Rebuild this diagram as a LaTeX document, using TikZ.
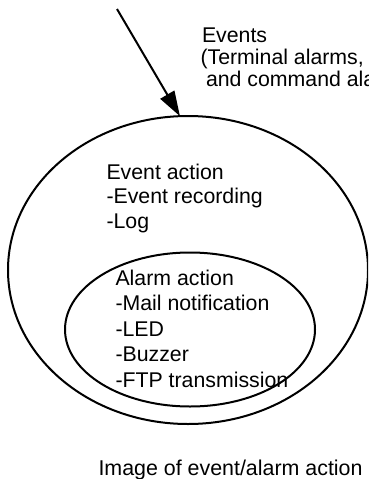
\documentclass[tikz,border=0pt]{standalone}
\usepackage{fontspec}
\setmainfont{Liberation Sans}
\usetikzlibrary{shapes.geometric,arrows.meta}
\tikzset{
  txt/.style={anchor=base west, inner sep=0pt, outer sep=0pt, font=\fontsize{21.3}{25}\selectfont},
  captiontxt/.style={anchor=base west, inner sep=0pt, outer sep=0pt, font=\fontsize{21.4}{25}\selectfont},
  ring/.style={draw, ellipse, line width=2pt, inner sep=0pt, outer sep=0pt},
  evarrow/.style={line width=2pt, -{Triangle[length=25pt,width=16pt]}}
}
\begin{document}
\begin{tikzpicture}[x=1pt,y=-1pt]
\useasboundingbox (0,0) rectangle (368,479);
\clip (0,0) rectangle (368,479);
% ellipses
\node[ring, minimum width=360pt, minimum height=308pt] (outer) at (188,270) {};
\node[ring, minimum width=250pt, minimum height=154pt] (inner) at (190,329.5) {};
% arrow
\coordinate (src) at (117,9);
\draw[evarrow] (src) -- (outer.93);
% events text
\node[txt] (ev1) at (202,42) {Events};
\node[txt] (ev2) at (200.5,64) {(Terminal alarms, sensor alarms,};
\node[txt] (ev3) at (206,86) {and command alarms)};
% event action
\node[txt] (ea1) at (106.5,179) {Event action};
\node[txt] (ea2) at (106.5,203.5) {-Event recording};
\node[txt] (ea3) at (106.5,228) {-Log};
% alarm action
\node[txt] (aa1) at (115.5,285) {Alarm action};
\node[txt] (aa2) at (115.5,310.5) {-Mail notification};
\node[txt] (aa3) at (115.5,336) {-LED};
\node[txt] (aa4) at (115.5,361.5) {-Buzzer};
\node[txt] (aa5) at (115.5,387) {-FTP transmission};
% caption
\node[captiontxt] (caption) at (98.5,475) {Image of event/alarm action};
\end{tikzpicture}
\end{document}
